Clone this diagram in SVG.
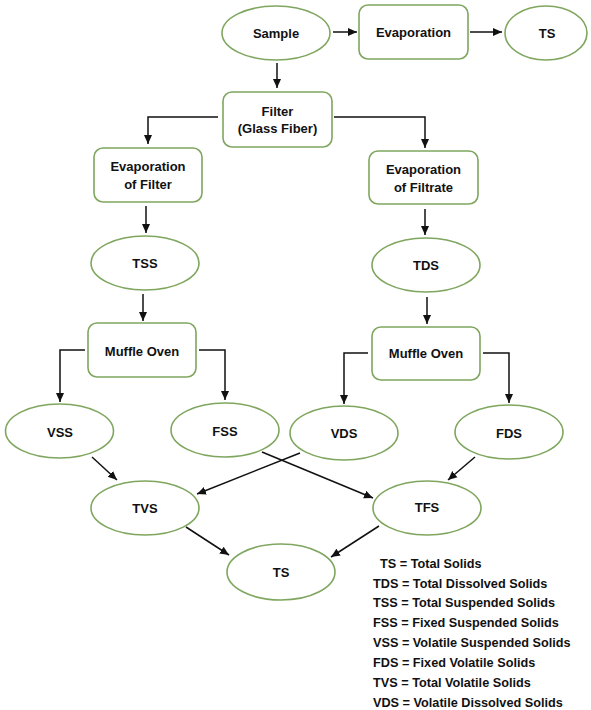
<svg xmlns="http://www.w3.org/2000/svg" width="591" height="710" viewBox="0 0 591 710">
<style>
.n{fill:#fff;stroke:#7FA65E;stroke-width:1.6}
.t{font-family:"Liberation Sans",Arial,sans-serif;font-weight:bold;font-size:13px;fill:#111;text-anchor:middle}
.lg{font-family:"Liberation Sans",Arial,sans-serif;font-weight:bold;font-size:12.7px;fill:#111}
.c{fill:none;stroke:#111;stroke-width:1.5;marker-end:url(#ah)}
</style>
<defs>
<marker id="ah" markerUnits="userSpaceOnUse" markerWidth="10" markerHeight="10" viewBox="0 0 10 10" refX="9" refY="5" orient="auto">
<path d="M0,1 L9,5 L0,9 Z" fill="#111"/>
</marker>
</defs>
<rect width="591" height="710" fill="#fff"/>
<g id="connectors">
<path class="c" d="M333,32 L357,32"/>
<path class="c" d="M470,32 L502,32"/>
<path class="c" d="M277,63 L277,88"/>
<path class="c" d="M218,117 L148,117 L148,144"/>
<path class="c" d="M334,117 L425,117 L425,148"/>
<path class="c" d="M146,206 L146,233"/>
<path class="c" d="M425,209 L425,235"/>
<path class="c" d="M143,294 L143,321"/>
<path class="c" d="M427,297 L427,324"/>
<path class="c" d="M85,350 L60,350 L60,402"/>
<path class="c" d="M199,350 L225,350 L225,400"/>
<path class="c" d="M368,353 L344,353 L344,404"/>
<path class="c" d="M483,353 L509,353 L509,403"/>
<path class="c" d="M92,457 L117,480"/>
<path class="c" d="M300,453 L197,494"/>
<path class="c" d="M262,452 L373,498"/>
<path class="c" d="M475,457 L448,480"/>
<path class="c" d="M186,527 L229,555"/>
<path class="c" d="M379,526 L331,557"/>
</g>
<g id="sample"><ellipse class="n" cx="276" cy="33" rx="54" ry="27"/><text class="t" x="276" y="38">Sample</text></g>
<g id="evaporation"><rect class="n" x="359" y="5" width="109" height="54" rx="9"/><text class="t" x="413.5" y="37">Evaporation</text></g>
<g id="ts-top"><ellipse class="n" cx="546" cy="33" rx="41" ry="27"/><text class="t" x="547" y="38">TS</text></g>
<g id="filter"><rect class="n" x="223" y="92" width="109" height="55" rx="9"/><text class="t" x="277.5" y="116">Filter</text><text class="t" x="277.5" y="133">(Glass Fiber)</text></g>
<g id="evap-filter"><rect class="n" x="94" y="148" width="108" height="54" rx="9"/><text class="t" x="148" y="171">Evaporation</text><text class="t" x="148" y="189">of Filter</text></g>
<g id="evap-filtrate"><rect class="n" x="369" y="151" width="109" height="53" rx="9"/><text class="t" x="423.5" y="174">Evaporation</text><text class="t" x="423.5" y="192">of Filtrate</text></g>
<g id="tss"><ellipse class="n" cx="145" cy="263" rx="54" ry="27"/><text class="t" x="145" y="268">TSS</text></g>
<g id="tds"><ellipse class="n" cx="426" cy="265" rx="54" ry="27"/><text class="t" x="426" y="270">TDS</text></g>
<g id="muffle-left"><rect class="n" x="88" y="323" width="108" height="54" rx="9"/><text class="t" x="142" y="356">Muffle Oven</text></g>
<g id="muffle-right"><rect class="n" x="372" y="327" width="108" height="53" rx="9"/><text class="t" x="426" y="358">Muffle Oven</text></g>
<g id="vss"><ellipse class="n" cx="59.5" cy="431" rx="54" ry="27"/><text class="t" x="60" y="437">VSS</text></g>
<g id="fss"><ellipse class="n" cx="225" cy="430" rx="54" ry="27"/><text class="t" x="225" y="436">FSS</text></g>
<g id="vds"><ellipse class="n" cx="344" cy="433" rx="54" ry="27"/><text class="t" x="344" y="438">VDS</text></g>
<g id="fds"><ellipse class="n" cx="509" cy="432" rx="54" ry="27"/><text class="t" x="509" y="438">FDS</text></g>
<g id="tvs"><ellipse class="n" cx="145" cy="508" rx="54" ry="27"/><text class="t" x="145" y="513">TVS</text></g>
<g id="tfs"><ellipse class="n" cx="427" cy="508" rx="54" ry="27"/><text class="t" x="427" y="512">TFS</text></g>
<g id="ts-bottom"><ellipse class="n" cx="281" cy="572" rx="54" ry="28"/><text class="t" x="281" y="577">TS</text></g>
<g id="legend">
<text class="lg" x="380" y="567.5">TS = Total Solids</text>
<text class="lg" x="373" y="587.5">TDS = Total Dissolved Solids</text>
<text class="lg" x="373" y="606.5">TSS = Total Suspended Solids</text>
<text class="lg" x="373" y="626.5">FSS = Fixed Suspended Solids</text>
<text class="lg" x="373" y="646.5">VSS = Volatile Suspended Solids</text>
<text class="lg" x="373" y="666.5">FDS = Fixed Volatile Solids</text>
<text class="lg" x="373" y="686.5">TVS = Total Volatile Solids</text>
<text class="lg" x="373" y="707">VDS = Volatile Dissolved Solids</text>
</g>
</svg>
